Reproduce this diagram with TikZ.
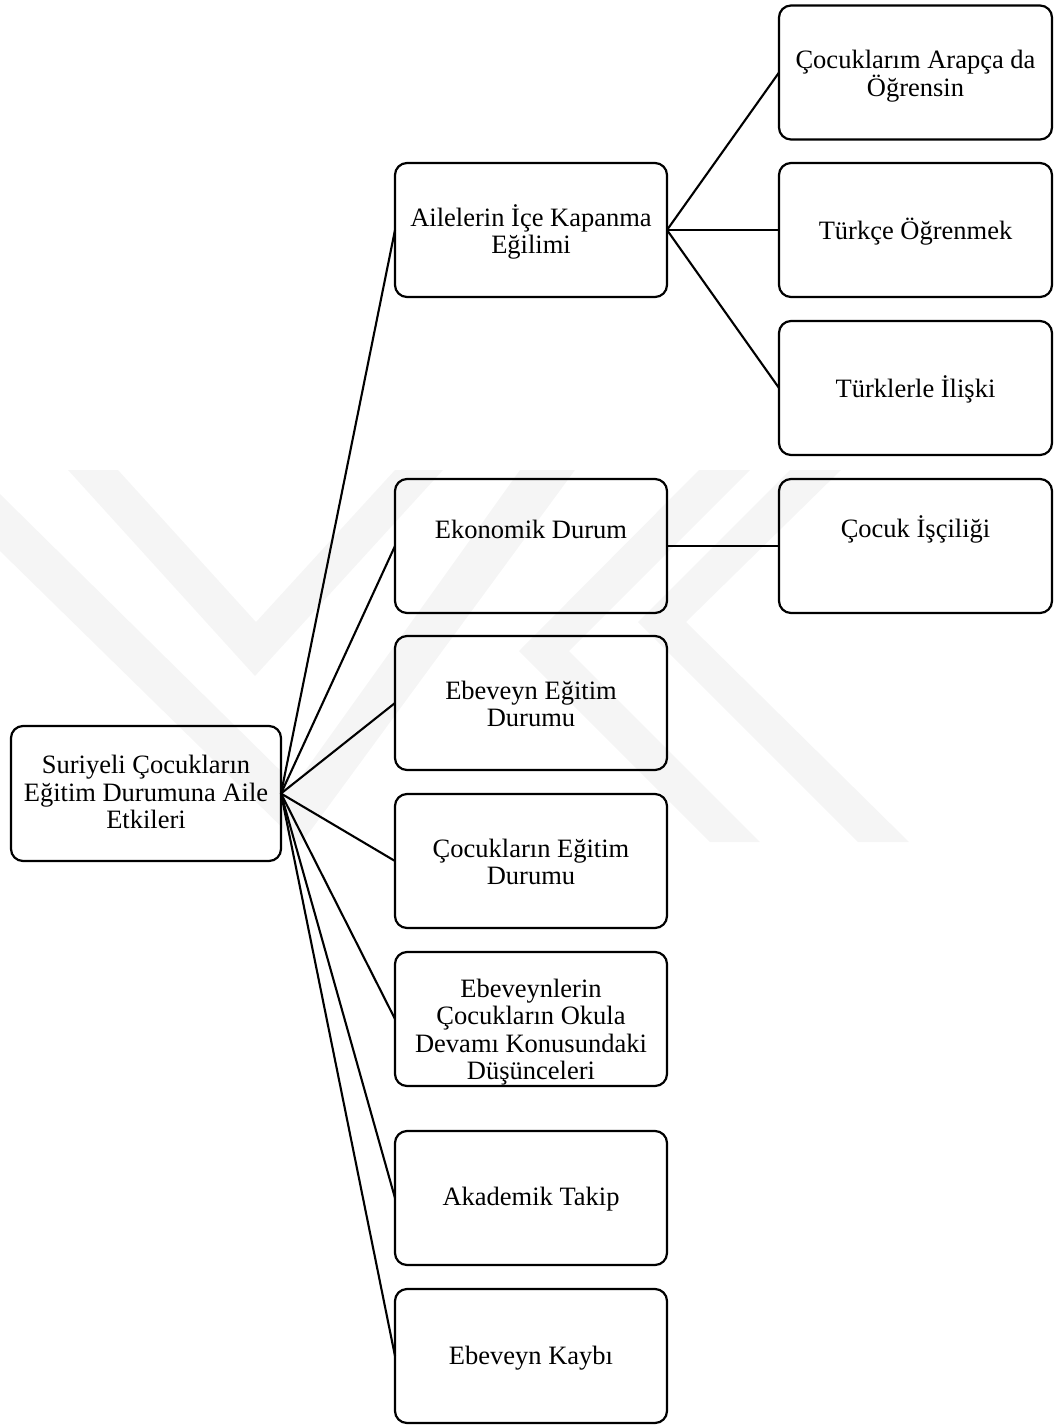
\documentclass[tikz,border=0pt]{standalone}
\usepackage{fontspec}
\setmainfont{Liberation Serif}
\begin{document}
\begin{tikzpicture}[x=1pt,y=-1pt,
  box/.style={draw, line width=2.2pt, rounded corners=12pt, minimum width=272pt,
              minimum height=134pt, inner sep=0pt, outer sep=0pt},
  leaf/.style={box, minimum width=273pt},
  lbl/.style={align=center, font=\fontsize{26.5}{27.5}\selectfont, inner sep=0pt},
  link/.style={line width=2.1pt},
  wm/.style={fill=black!4, draw=none}]
\useasboundingbox (0,0) rectangle (1057,1427);

% faint background emblem
\fill[wm] (68,470) -- (255,676) -- (443,470) -- (395,470) -- (256,622) -- (118,470) -- cycle;
\fill[wm] (0,551) -- (300,845) -- (575,470) -- (520,470) -- (295,785) -- (0,494) -- cycle;
\fill[wm] (790,470) -- (638,622) -- (858,842) -- (909,842) -- (686,622) -- (841,470) -- cycle;
\fill[wm] (699,470) -- (519,651) -- (710,842) -- (760,842) -- (569,651) -- (750,470) -- cycle;

% root
\node[box, minimum width=270pt, minimum height=135pt] (root) at (146,793.5) {};
\node[lbl] (rootT) at (146,792) {Suriyeli Çocukların\\Eğitim Durumuna Aile\\Etkileri};

% first level
\node[box] (ice) at (531,230) {};
\node[lbl] (iceT) at (531,232) {Ailelerin İçe Kapanma\\Eğilimi};
\node[box] (eko) at (531,546) {};
\node[lbl] (ekoT) at (531,529) {Ekonomik Durum};
\node[box] (ebe) at (531,703) {};
\node[lbl] (ebeT) at (531,704) {Ebeveyn Eğitim\\Durumu};
\node[box] (coc) at (531,861) {};
\node[lbl] (cocT) at (531,862) {Çocukların Eğitim\\Durumu};
\node[box] (dus) at (531,1019) {};
\node[lbl] (dusT) at (531,1032) {Ebeveynlerin\\Çocukların Okula\\Devamı Konusundaki\\Düşünceleri};
\node[box] (aka) at (531,1198) {};
\node[lbl] (akaT) at (531,1199) {Akademik Takip};
\node[box] (kay) at (531,1356) {};
\node[lbl] (kayT) at (531,1358) {Ebeveyn Kaybı};

% second level
\node[leaf] (ara) at (915.5,72.5) {};
\node[lbl] (araT) at (915.5,76) {Çocuklarım Arapça da\\Öğrensin};
\node[leaf] (tur) at (915.5,230) {};
\node[lbl] (turT) at (915.5,232) {Türkçe Öğrenmek};
\node[leaf] (ili) at (915.5,388) {};
\node[lbl] (iliT) at (915.5,389) {Türklerle İlişki};
\node[leaf] (isc) at (915.5,546) {};
\node[lbl] (iscT) at (915.5,529) {Çocuk İşçiliği};

% connectors
\foreach \t in {ice,eko,ebe,coc,dus,aka,kay}
  \draw[link] (root.east) -- (\t.west);
\foreach \t in {ara,tur,ili}
  \draw[link] (ice.east) -- (\t.west);
\draw[link] (eko.east) -- (isc.west);
\end{tikzpicture}
\end{document}
